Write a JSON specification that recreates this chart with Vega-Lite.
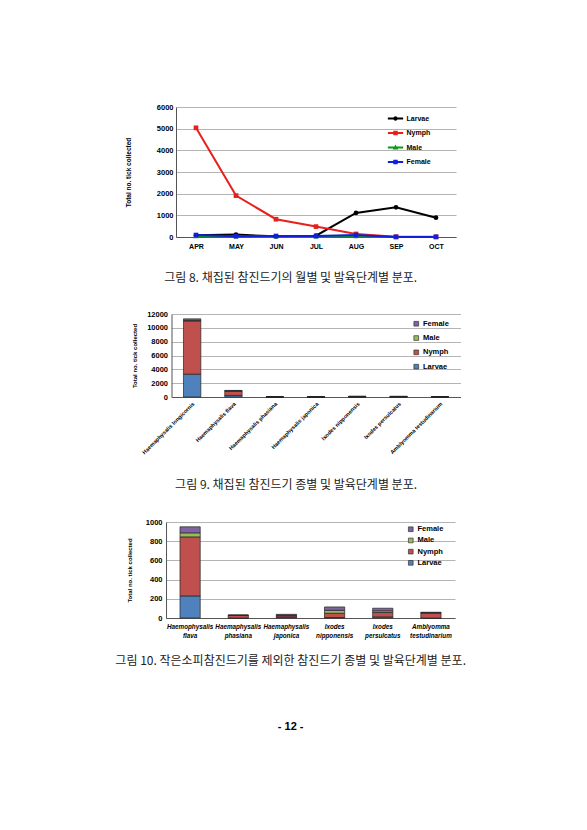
{
  "$schema": "https://vega.github.io/schema/vega-lite/v6.json",
  "background": "white",
  "padding": {"left": 115, "top": 103, "right": 5, "bottom": 5},
  "title": {"text": "- 12 -", "orient": "bottom", "anchor": "middle", "offset": 54, "font": "Liberation Sans", "fontSize": 11, "fontWeight": "bold", "color": "#000"},
  "spacing": 26,
  "center": true,
  "resolve": {"scale": {"color": "independent", "shape": "independent"}, "legend": {"color": "independent", "shape": "independent"}},
  "config": {
    "view": {"stroke": null},
    "axis": {
      "labelFont": "Liberation Sans", "labelFontWeight": "bold", "labelColor": "#000",
      "titleFont": "Liberation Sans", "titleFontWeight": "bold", "titleColor": "#000",
      "gridColor": "#b4b4b4", "domainColor": "#7a7a7a", "tickColor": "#7a7a7a"
    },
    "legend": {"labelFont": "Liberation Sans", "labelFontWeight": "bold", "labelColor": "#000", "title": null},
    "title": {"font": "Noto Sans CJK KR", "fontSize": 12, "fontWeight": "normal", "color": "#222", "orient": "bottom", "anchor": "middle", "frame": "bounds"}
  },
  "vconcat": [
    {
      "width": 280,
      "height": 130,
      "title": {"text": "그림 8. 채집된 참진드기의 월별 및 발육단계별 분포.", "offset": 24},
      "data": {"values": [
        {"month": "APR", "stage": "Larvae", "count": 80},
        {"month": "MAY", "stage": "Larvae", "count": 110},
        {"month": "JUN", "stage": "Larvae", "count": 30},
        {"month": "JUL", "stage": "Larvae", "count": 60},
        {"month": "AUG", "stage": "Larvae", "count": 1110},
        {"month": "SEP", "stage": "Larvae", "count": 1370},
        {"month": "OCT", "stage": "Larvae", "count": 890},
        {"month": "APR", "stage": "Nymph", "count": 5040},
        {"month": "MAY", "stage": "Nymph", "count": 1910},
        {"month": "JUN", "stage": "Nymph", "count": 820},
        {"month": "JUL", "stage": "Nymph", "count": 480},
        {"month": "AUG", "stage": "Nymph", "count": 140},
        {"month": "SEP", "stage": "Nymph", "count": 10},
        {"month": "OCT", "stage": "Nymph", "count": 10},
        {"month": "APR", "stage": "Male", "count": 40},
        {"month": "MAY", "stage": "Male", "count": 30},
        {"month": "JUN", "stage": "Male", "count": 20},
        {"month": "JUL", "stage": "Male", "count": 25},
        {"month": "AUG", "stage": "Male", "count": 40},
        {"month": "SEP", "stage": "Male", "count": 5},
        {"month": "OCT", "stage": "Male", "count": 5},
        {"month": "APR", "stage": "Female", "count": 90},
        {"month": "MAY", "stage": "Female", "count": 40},
        {"month": "JUN", "stage": "Female", "count": 45},
        {"month": "JUL", "stage": "Female", "count": 45},
        {"month": "AUG", "stage": "Female", "count": 90},
        {"month": "SEP", "stage": "Female", "count": 5},
        {"month": "OCT", "stage": "Female", "count": 5}
      ]},
      "encoding": {
        "x": {
          "field": "month", "type": "ordinal",
          "sort": ["APR", "MAY", "JUN", "JUL", "AUG", "SEP", "OCT"],
          "scale": {"type": "point", "padding": 0.5},
          "axis": {"title": null, "labelAngle": 0, "labelFontSize": 7, "labelPadding": 5, "ticks": false, "domainColor": "#555"}
        },
        "y": {
          "field": "count", "type": "quantitative",
          "scale": {"domain": [0, 6000]},
          "axis": {"values": [0, 1000, 2000, 3000, 4000, 5000, 6000], "format": "d", "title": "Total no. tick collected", "titleFontSize": 6.5, "titlePadding": 25, "labelFontSize": 7.5, "labelPadding": 3, "ticks": false, "domainColor": "#555"}
        }
      },
      "layer": [
        {
          "mark": {"type": "line", "strokeWidth": 2},
          "encoding": {
            "color": {
              "field": "stage", "type": "nominal",
              "sort": ["Larvae", "Nymph", "Male", "Female"],
              "scale": {"domain": ["Larvae", "Nymph", "Male", "Female"], "range": ["#000000", "#e8201c", "#0a9a18", "#1020d8"]},
              "legend": {
                "orient": "none", "legendX": 215, "legendY": 7, "padding": 0,
                "symbolType": "M-2,-0.1H2V0.1H-2Z M-0.45,-0.45H0.45V0.45H-0.45Z", "symbolSize": 49, "symbolStrokeWidth": 1.3,
                "labelFontSize": 7, "labelOffset": 6.5, "rowPadding": 5.5,
                "encode": {"symbols": {"update": {
                  "shape": {"signal": "datum.value === 'Larvae' ? 'M-2,-0.1H2V0.1H-2Z M0.45,0 A0.45,0.45 0 1,1 -0.45,0 A0.45,0.45 0 1,1 0.45,0 Z' : datum.value === 'Male' ? 'M-2,-0.1H2V0.1H-2Z M0,-0.5L0.5,0.4H-0.5Z' : 'M-2,-0.1H2V0.1H-2Z M-0.45,-0.45H0.45V0.45H-0.45Z'"}
                }}}
              }
            }
          }
        },
        {
          "transform": [{"filter": "datum.stage === 'Larvae'"}],
          "mark": {"type": "point", "filled": true, "size": 22, "opacity": 1, "shape": "circle"},
          "encoding": {"color": {"field": "stage", "type": "nominal", "legend": null}}
        },
        {
          "transform": [{"filter": "datum.stage === 'Male'"}],
          "mark": {"type": "point", "filled": true, "size": 22, "opacity": 1, "shape": "triangle-up"},
          "encoding": {"color": {"field": "stage", "type": "nominal", "legend": null}}
        },
        {
          "transform": [{"filter": "datum.stage === 'Nymph' || datum.stage === 'Female'"}],
          "mark": {"type": "point", "filled": true, "size": 22, "opacity": 1, "shape": "square"},
          "encoding": {"color": {"field": "stage", "type": "nominal", "legend": null}}
        }
      ]
    },
    {
      "width": 289,
      "height": 83,
      "title": {"text": "그림 9. 채집된 참진드기 종별 및 발육단계별 분포.", "offset": 25},
      "data": {"values": [
        {"species": "Haemaphysalis longicornis", "stage": "Larvae", "count": 3300},
        {"species": "Haemaphysalis longicornis", "stage": "Nymph", "count": 7700},
        {"species": "Haemaphysalis longicornis", "stage": "Male", "count": 80},
        {"species": "Haemaphysalis longicornis", "stage": "Female", "count": 220},
        {"species": "Haemaphysalis flava", "stage": "Larvae", "count": 230},
        {"species": "Haemaphysalis flava", "stage": "Nymph", "count": 615},
        {"species": "Haemaphysalis flava", "stage": "Male", "count": 45},
        {"species": "Haemaphysalis flava", "stage": "Female", "count": 60},
        {"species": "Haemaphysalis phasiana", "stage": "Larvae", "count": 0},
        {"species": "Haemaphysalis phasiana", "stage": "Nymph", "count": 28},
        {"species": "Haemaphysalis phasiana", "stage": "Male", "count": 0},
        {"species": "Haemaphysalis phasiana", "stage": "Female", "count": 3},
        {"species": "Haemaphysalis japonica", "stage": "Larvae", "count": 10},
        {"species": "Haemaphysalis japonica", "stage": "Nymph", "count": 14},
        {"species": "Haemaphysalis japonica", "stage": "Male", "count": 4},
        {"species": "Haemaphysalis japonica", "stage": "Female", "count": 10},
        {"species": "Ixodes nipponensis", "stage": "Larvae", "count": 5},
        {"species": "Ixodes nipponensis", "stage": "Nymph", "count": 45},
        {"species": "Ixodes nipponensis", "stage": "Male", "count": 30},
        {"species": "Ixodes nipponensis", "stage": "Female", "count": 35},
        {"species": "Ixodes persulcatus", "stage": "Larvae", "count": 12},
        {"species": "Ixodes persulcatus", "stage": "Nymph", "count": 45},
        {"species": "Ixodes persulcatus", "stage": "Male", "count": 18},
        {"species": "Ixodes persulcatus", "stage": "Female", "count": 27},
        {"species": "Amblyomma testudinarium", "stage": "Larvae", "count": 0},
        {"species": "Amblyomma testudinarium", "stage": "Nymph", "count": 53},
        {"species": "Amblyomma testudinarium", "stage": "Male", "count": 2},
        {"species": "Amblyomma testudinarium", "stage": "Female", "count": 5}
      ]},
      "transform": [{"calculate": "indexof(['Larvae', 'Nymph', 'Male', 'Female'], datum.stage)", "as": "stackOrder"}],
      "mark": {"type": "bar", "stroke": "#222", "strokeWidth": 0.7},
      "encoding": {
        "x": {
          "field": "species", "type": "nominal", "sort": null,
          "scale": {"paddingInner": 0.58, "paddingOuter": 0.29},
          "axis": {"title": null, "labelAngle": -45, "labelFontSize": 5.5, "labelPadding": 4, "ticks": false, "domainColor": "#555"}
        },
        "y": {
          "field": "count", "type": "quantitative", "aggregate": "sum",
          "scale": {"domain": [0, 12000]},
          "axis": {"values": [0, 2000, 4000, 6000, 8000, 10000, 12000], "format": "d", "title": "Total no. tick collected", "titleFontSize": 6, "titlePadding": 9, "labelFontSize": 7.5, "labelPadding": 4, "ticks": false, "domainColor": "#555"}
        },
        "order": {"field": "stackOrder", "type": "quantitative", "sort": "ascending"},
        "color": {
          "field": "stage", "type": "nominal",
          "sort": ["Larvae", "Nymph", "Male", "Female"],
          "scale": {"domain": ["Larvae", "Nymph", "Male", "Female"], "range": ["#4f81bd", "#c0504d", "#9bbb59", "#8064a2"]},
          "legend": {
            "values": ["Female", "Male", "Nymph", "Larvae"],
            "orient": "none", "legendX": 241, "legendY": 6, "padding": 0,
            "symbolType": "square", "symbolSize": 22, "symbolStrokeColor": "#333", "symbolStrokeWidth": 0.7,
            "labelFontSize": 7.5, "labelOffset": 3, "rowPadding": 5.3
          }
        }
      }
    },
    {
      "width": 289,
      "height": 96,
      "title": {"text": "그림 10. 작은소피참진드기를 제외한 참진드기 종별 및 발육단계별 분포.", "offset": 18},
      "data": {"values": [
        {"species": "Haemophysalis flava", "stage": "Larvae", "count": 230},
        {"species": "Haemophysalis flava", "stage": "Nymph", "count": 615},
        {"species": "Haemophysalis flava", "stage": "Male", "count": 42},
        {"species": "Haemophysalis flava", "stage": "Female", "count": 63},
        {"species": "Haemaphysalis phasiana", "stage": "Larvae", "count": 0},
        {"species": "Haemaphysalis phasiana", "stage": "Nymph", "count": 28},
        {"species": "Haemaphysalis phasiana", "stage": "Male", "count": 0},
        {"species": "Haemaphysalis phasiana", "stage": "Female", "count": 3},
        {"species": "Haemaphysalis japonica", "stage": "Larvae", "count": 10},
        {"species": "Haemaphysalis japonica", "stage": "Nymph", "count": 14},
        {"species": "Haemaphysalis japonica", "stage": "Male", "count": 4},
        {"species": "Haemaphysalis japonica", "stage": "Female", "count": 10},
        {"species": "Ixodes nipponensis", "stage": "Larvae", "count": 5},
        {"species": "Ixodes nipponensis", "stage": "Nymph", "count": 45},
        {"species": "Ixodes nipponensis", "stage": "Male", "count": 30},
        {"species": "Ixodes nipponensis", "stage": "Female", "count": 35},
        {"species": "Ixodes persulcatus", "stage": "Larvae", "count": 12},
        {"species": "Ixodes persulcatus", "stage": "Nymph", "count": 45},
        {"species": "Ixodes persulcatus", "stage": "Male", "count": 18},
        {"species": "Ixodes persulcatus", "stage": "Female", "count": 27},
        {"species": "Amblyomma testudinarium", "stage": "Larvae", "count": 0},
        {"species": "Amblyomma testudinarium", "stage": "Nymph", "count": 53},
        {"species": "Amblyomma testudinarium", "stage": "Male", "count": 2},
        {"species": "Amblyomma testudinarium", "stage": "Female", "count": 5}
      ]},
      "transform": [{"calculate": "indexof(['Larvae', 'Nymph', 'Male', 'Female'], datum.stage)", "as": "stackOrder"}],
      "mark": {"type": "bar", "stroke": "#222", "strokeWidth": 0.7},
      "encoding": {
        "x": {
          "field": "species", "type": "nominal", "sort": null,
          "scale": {"paddingInner": 0.58, "paddingOuter": 0.29},
          "axis": {"title": null, "labelAngle": 0, "labelFontSize": 6.3, "labelFontStyle": "italic", "labelLineHeight": 9, "labelPadding": 5, "ticks": false, "domainColor": "#555", "labelExpr": "split(datum.label, ' ')"}
        },
        "y": {
          "field": "count", "type": "quantitative", "aggregate": "sum",
          "scale": {"domain": [0, 1000]},
          "axis": {"values": [0, 200, 400, 600, 800, 1000], "format": "d", "title": "Total no. tick collected", "titleFontSize": 6, "titlePadding": 13, "labelFontSize": 7.5, "labelPadding": 4, "ticks": false, "domainColor": "#555"}
        },
        "order": {"field": "stackOrder", "type": "quantitative", "sort": "ascending"},
        "color": {
          "field": "stage", "type": "nominal",
          "sort": ["Larvae", "Nymph", "Male", "Female"],
          "scale": {"domain": ["Larvae", "Nymph", "Male", "Female"], "range": ["#4f81bd", "#c0504d", "#9bbb59", "#8064a2"]},
          "legend": {
            "values": ["Female", "Male", "Nymph", "Larvae"],
            "orient": "none", "legendX": 241, "legendY": 3.5, "padding": 0,
            "symbolType": "square", "symbolSize": 22, "symbolStrokeColor": "#333", "symbolStrokeWidth": 0.7,
            "labelFontSize": 7.5, "labelOffset": 3, "rowPadding": 2.2
          }
        }
      }
    }
  ]
}
